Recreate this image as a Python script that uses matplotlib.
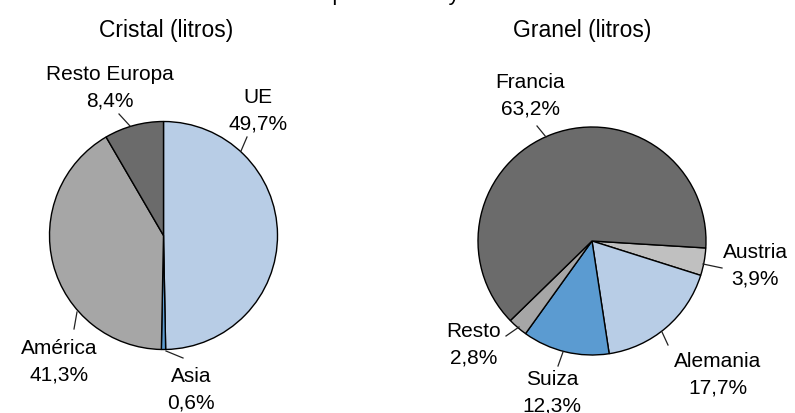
import matplotlib.pyplot as plt

plt.rcParams['font.family'] = ['Liberation Sans', 'DejaVu Sans']

# Cristal
cristal_labels = ['UE', 'Asia', 'América', 'Resto Europa']
cristal_values = [49.7, 0.6, 41.3, 8.4]
cristal_colors = ['#b8cde6', '#5b9bd1', '#a6a6a6', '#6b6b6b']

# Granel
granel_labels = ['Austria', 'Alemania', 'Suiza', 'Resto', 'Francia']
granel_values = [3.9, 17.7, 12.3, 2.8, 63.2]
granel_colors = ['#c0c0c0', '#b8cde6', '#5b9bd1', '#a6a6a6', '#6b6b6b']

W, H = 795, 414

# layout in pixels (image coords, y down)
cristal_center = (163.5, 236.5)
granel_center = (592, 242)
radius = 114
cristal_text = {'UE': (258, 111), 'Asia': (191, 390), 'América': (59, 362),
                'Resto Europa': (110, 88)}
cristal_lead = {'UE': ((241, 152), (247, 138)), 'Asia': ((166, 352), (183, 359)),
                'América': ((77, 313), (74, 330)),
                'Resto Europa': ((130, 127), (119, 115))}
granel_text = {'Francia': (530, 96), 'Austria': (755, 266), 'Alemania': (718, 375),
               'Suiza': (552, 393), 'Resto': (474, 345)}
granel_lead = {'Francia': ((546, 138), (537, 127)), 'Austria': ((703, 265), (722, 269)),
               'Alemania': ((662, 333), (668, 346)), 'Suiza': ((563, 353), (558, 367)),
               'Resto': ((519, 328), (506, 337))}

fig = plt.figure(figsize=(W / 100, H / 100), dpi=100)
ax = fig.add_axes([0, 0, 1, 1])


def draw(labels, values, colors, center, start, texts, leads):
    ax.pie(values, colors=colors, startangle=start, counterclock=False,
           center=(center[0], H - center[1]), radius=radius,
           wedgeprops=dict(edgecolor='black', linewidth=1))
    for lab, val in zip(labels, values):
        tx, ty = texts[lab]
        ax.text(tx, H - ty, f"{lab}\n{val:.1f}%".replace('.', ','),
                ha='center', va='center', fontsize=15, linespacing=1.5)
        (x0, y0), (x1, y1) = leads[lab]
        ax.plot([x0, x1], [H - y0, H - y1], color='#222222', lw=0.9)


draw(cristal_labels, cristal_values, cristal_colors, cristal_center, 90,
     cristal_text, cristal_lead)
draw(granel_labels, granel_values, granel_colors, granel_center, -3.5,
     granel_text, granel_lead)

ax.set_xlim(0, W)
ax.set_ylim(0, H)
ax.set_aspect('auto')
ax.axis('off')

fig.text(0.5, 1.0, 'Ventas por envase y destino', fontsize=16,
         ha='center', va='baseline')
fig.text(166.5 / W, 1 - 31 / H, 'Cristal (litros)', fontsize=16.5,
         ha='center', va='center')
fig.text(582 / W, 1 - 31 / H, 'Granel (litros)', fontsize=16.5,
         ha='center', va='center')

fig.savefig('out.png', dpi=100)
